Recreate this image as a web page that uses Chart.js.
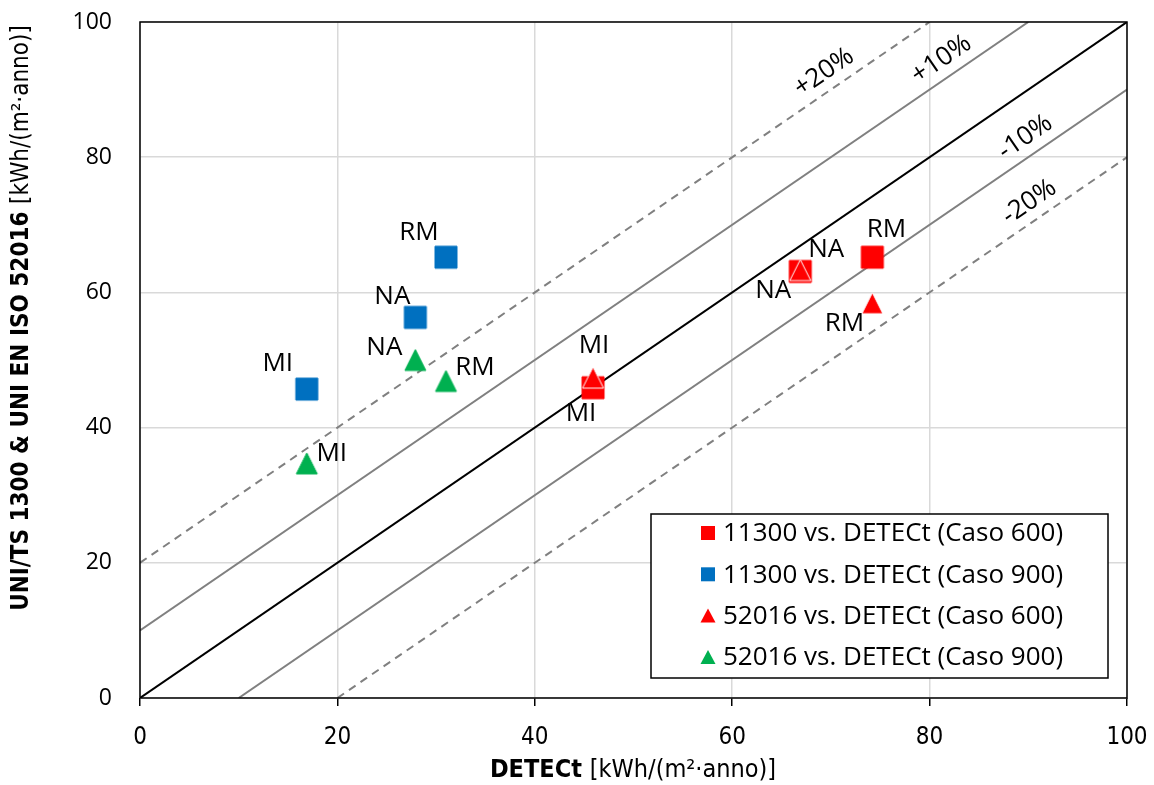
<!DOCTYPE html>
<html>
<head>
<meta charset="utf-8">
<script src="https://cdn.jsdelivr.net/npm/chart.js@4.4.1/dist/chart.umd.min.js"></script>
<style>
  html, body { margin: 0; padding: 0; background: #fff; }
  #wrap { width: 1154px; height: 785px; }
</style>
</head>
<body>
<div id="wrap"><canvas id="chart"></canvas></div>
<script>
// cities / cases
const cities = ['MI', 'NA', 'RM'];

// DETECt values (x)
const detect600 = [45.9, 66.9, 74.2];
const detect900 = [16.9, 27.9, 31.0];

// UNI/TS 11300 and UNI EN ISO 52016 values (y)
const uni11300_600 = [45.9, 63.1, 65.2];
const uni11300_900 = [45.7, 56.3, 65.2];
const iso52016_600 = [47.4, 63.3, 58.4];
const iso52016_900 = [34.7, 50.0, 46.9];

const axisTicks = [0, 20, 40, 60, 80, 100];

// reference lines (endpoints)
const linePlus20 = [[0, 20], [80, 100]];
const linePlus10 = [[0, 10], [90, 100]];
const lineEqual = [[0, 0], [100, 100]];
const lineMinus10 = [[10, 0], [100, 90]];
const lineMinus20 = [[20, 0], [100, 80]];
const bandLabels = ['+20%', '+10%', '-10%', '-20%'];

const RED = '#FF0000', BLUE = '#0070C0', GREEN = '#00B050';
const FONT = "'Open Sans', 'Noto Sans', sans-serif";
const NARROW = "'Liberation Sans Narrow', 'DejaVu Sans Condensed', sans-serif";

function toPoints(xs, ys) {
    return xs.map((x, i) => ({ x: x, y: ys[i] }));
}
function linePts(arr) {
    return arr.map(p => ({ x: p[0], y: p[1] }));
}

function marker(shape, color, size, border) {
    const pad = 2;
    const c = document.createElement('canvas');
    c.width = size + pad * 2;
    c.height = size + pad * 2;
    const g = c.getContext('2d');
    g.fillStyle = color;
    g.beginPath();
    if (shape === 'square') {
        g.rect(pad, pad, size, size);
    } else {
        g.moveTo(pad + size / 2, pad);
        g.lineTo(pad + size, pad + size);
        g.lineTo(pad, pad + size);
        g.closePath();
    }
    g.fill();
    if (border) {
        g.strokeStyle = border;
        g.lineWidth = 1;
        g.stroke();
    }
    return c;
}

// label offsets in pixels, relative to each marker
const offRedSq = [[-12, 26], [-27, 19], [14, -28]];
const offBlueSq = [[-29, -25], [-23, -21], [-27, -25]];
const offRedTri = [[1, -32], [26, -20], [-28, 20]];
const offGreenTri = [[25, -10], [-31, -12], [29, -13]];

function refLine(pts, color, dash) {
    return {
        data: linePts(pts),
        showLine: true,
        borderColor: color,
        borderWidth: 2,
        borderDash: dash || [],
        pointRadius: 0,
        order: 10
    };
}

const datasets = [
    {
        label: '11300 vs. DETECt (Caso 600)',
        data: toPoints(detect600, uni11300_600),
        pointStyle: marker('square', RED, 22, RED),
        pointRadius: 11,
        inLegend: 'square', color: RED,
        pointLabels: cities, labelOffsets: offRedSq,
        order: 4
    },
    {
        label: '11300 vs. DETECt (Caso 900)',
        data: toPoints(detect900, uni11300_900),
        pointStyle: marker('square', BLUE, 22, BLUE),
        pointRadius: 11,
        inLegend: 'square', color: BLUE,
        pointLabels: cities, labelOffsets: offBlueSq,
        order: 3
    },
    {
        label: '52016 vs. DETECt (Caso 600)',
        data: toPoints(detect600, iso52016_600),
        pointStyle: marker('triangle', RED, 21, '#ffffff'),
        pointRadius: 11,
        inLegend: 'triangle', color: RED,
        pointLabels: cities, labelOffsets: offRedTri,
        order: 2
    },
    {
        label: '52016 vs. DETECt (Caso 900)',
        data: toPoints(detect900, iso52016_900),
        pointStyle: marker('triangle', GREEN, 21, GREEN),
        pointRadius: 11,
        inLegend: 'triangle', color: GREEN,
        pointLabels: cities, labelOffsets: offGreenTri,
        order: 1
    },
    refLine(linePlus20, '#808080', [8, 6]),
    refLine(linePlus10, '#808080'),
    refLine(lineEqual, '#000000'),
    refLine(lineMinus10, '#808080'),
    refLine(lineMinus20, '#808080', [8, 6])
];

// point labels (MI, NA, RM) and band labels
const pointLabelPlugin = {
    id: 'pointLabels',
    afterDatasetsDraw(chart) {
        const ctx = chart.ctx;
        ctx.save();
        ctx.font = '26px ' + FONT;
        ctx.fillStyle = '#000';
        ctx.textAlign = 'center';
        ctx.textBaseline = 'middle';
        chart.data.datasets.forEach((ds, i) => {
            if (!ds.pointLabels) return;
            const meta = chart.getDatasetMeta(i);
            meta.data.forEach((pt, j) => {
                const o = ds.labelOffsets[j];
                ctx.fillText(ds.pointLabels[j], pt.x + o[0], pt.y + o[1]);
            });
        });
        const xs = chart.scales.x, ys = chart.scales.y;
        const lines = [linePlus20, linePlus10, lineMinus10, lineMinus20];
        const along = [69.3, 81.2, 89.7, 90.1];
        const ang = Math.atan2(ys.getPixelForValue(0) - ys.getPixelForValue(100),
                               xs.getPixelForValue(100) - xs.getPixelForValue(0));
        ctx.font = '26px ' + FONT;
        bandLabels.forEach((t, k) => {
            const l = lines[k];
            const yv = l[0][1] + (along[k] - l[0][0]);
            const px = xs.getPixelForValue(along[k]);
            const py = ys.getPixelForValue(yv) - 22;
            ctx.save();
            ctx.translate(px, py);
            ctx.rotate(-ang);
            ctx.fillText(t, 0, 0);
            ctx.restore();
        });
        ctx.restore();
    }
};

function drawMixed(ctx, parts, cx, cy) {
    let total = 0;
    parts.forEach(p => { ctx.font = p.font; p.w = ctx.measureText(p.text).width; total += p.w; });
    let x = cx - total / 2;
    parts.forEach(p => {
        ctx.font = p.font;
        ctx.fillText(p.text, x, cy);
        x += p.w;
    });
}

const framePlugin = {
    id: 'frame',
    afterDraw(chart) {
        const ctx = chart.ctx;
        const a = chart.chartArea;
        ctx.save();
        ctx.strokeStyle = '#000';
        ctx.lineWidth = 1.5;
        ctx.strokeRect(a.left, a.top, a.right - a.left, a.bottom - a.top);

        // axis titles
        ctx.fillStyle = '#000';
        ctx.textAlign = 'left';
        ctx.textBaseline = 'middle';
        drawMixed(ctx, [
            { text: 'DETECt ', font: 'bold 25px ' + NARROW },
            { text: '[kWh/(m²·anno)]', font: '25px ' + NARROW }
        ], 633, 770);
        ctx.save();
        ctx.translate(22, 318);
        ctx.rotate(-Math.PI / 2);
        drawMixed(ctx, [
            { text: 'UNI/TS 1300 & UNI EN ISO 52016 ', font: 'bold 24px ' + NARROW },
            { text: '[kWh/(m²·anno)]', font: '24px ' + NARROW }
        ], 0, 0);
        ctx.restore();

        // legend
        const bx = 651, by = 514, bw = 457, bh = 164;
        ctx.fillStyle = '#fff';
        ctx.fillRect(bx, by, bw, bh);
        ctx.strokeStyle = '#000';
        ctx.lineWidth = 1.5;
        ctx.strokeRect(bx, by, bw, bh);
        const items = chart.data.datasets.filter(d => d.inLegend);
        ctx.font = '26px ' + FONT;
        ctx.textBaseline = 'middle';
        items.forEach((d, k) => {
            const cy = by + 19 + k * 41.3;
            const cx = bx + 57;
            ctx.fillStyle = d.color;
            ctx.beginPath();
            if (d.inLegend === 'square') {
                ctx.rect(cx - 7, cy - 7, 14, 14);
            } else {
                ctx.moveTo(cx, cy - 7);
                ctx.lineTo(cx + 7.5, cy + 7);
                ctx.lineTo(cx - 7.5, cy + 7);
                ctx.closePath();
            }
            ctx.fill();
            ctx.fillStyle = '#000';
            ctx.fillText(d.label, bx + 72, cy + 1);
        });
        ctx.restore();
    }
};

const ctx = document.getElementById('chart').getContext('2d');
new Chart(ctx, {
    type: 'scatter',
    data: { datasets: datasets },
    options: {
        responsive: true,
        maintainAspectRatio: false,
        animation: false,
        layout: { padding: { top: 22, right: 27, left: 0, bottom: 0 } },
        plugins: {
            legend: { display: false },
            tooltip: { enabled: false }
        },
        scales: {
            x: {
                type: 'linear',
                min: axisTicks[0],
                max: axisTicks[axisTicks.length - 1],
                afterBuildTicks(s) { s.ticks = axisTicks.map(v => ({ value: v })); },
                afterFit(s) { s.height = 87; s.paddingLeft = 0; s.paddingRight = 0; },
                border: { display: false },
                grid: { color: '#d9d9d9', lineWidth: 1.5, tickColor: '#000', tickLength: 8 },
                ticks: { color: '#000', font: { family: NARROW, size: 24 }, padding: 17, maxRotation: 0 }
            },
            y: {
                type: 'linear',
                min: axisTicks[0],
                max: axisTicks[axisTicks.length - 1],
                afterBuildTicks(s) { s.ticks = axisTicks.map(v => ({ value: v })); },
                afterFit(s) { s.width = 140; s.paddingTop = 0; s.paddingBottom = 0; },
                border: { display: false },
                grid: { color: '#d9d9d9', lineWidth: 1.5, drawTicks: false },
                ticks: { color: '#000', font: { family: FONT, size: 23 }, padding: 28 }
            }
        }
    },
    plugins: [pointLabelPlugin, framePlugin]
});
</script>
</body>
</html>
